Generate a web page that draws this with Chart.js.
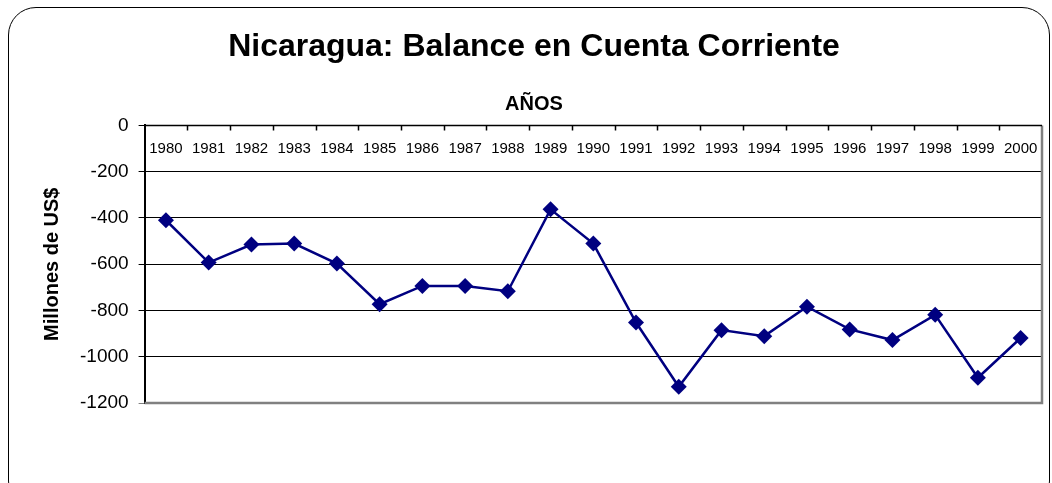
<!DOCTYPE html>
<html>
<head>
<meta charset="utf-8">
<title>Nicaragua: Balance en Cuenta Corriente</title>
<script src="https://cdn.jsdelivr.net/npm/chart.js@4"></script>
<style>
  html, body { margin: 0; padding: 0; background: #fff; overflow: hidden; }
  #wrap { position: relative; width: 1052px; height: 483px; }
  #frame {
    position: absolute; left: 8px; top: 7px; width: 1040px; height: 500px;
    border: 1px solid #000; border-radius: 28px; pointer-events: none;
  }
</style>
</head>
<body>
<div id="wrap">
  <canvas id="balanceChart" width="1052" height="483"></canvas>
  <div id="frame"></div>
</div>
<script>
// datos (millones de US$)
const years = ['1980', '1981', '1982', '1983', '1984', '1985', '1986', '1987', '1988', '1989', '1990',
               '1991', '1992', '1993', '1994', '1995', '1996', '1997', '1998', '1999', '2000'];
const balance = [-410, -593, -515, -511, -597, -773, -694, -694, -717, -363, -511,
                 -852, -1130, -885, -911, -784, -882, -928, -819, -1091, -919];
const yMin = -1200;
const yMax = 0;
const yStep = 200;

const chartTitle = 'Nicaragua: Balance en Cuenta Corriente';
const xTitle = 'AÑOS';
const yTitle = 'Millones de US$';

Chart.defaults.font.family = 'Arial, "Liberation Sans", sans-serif';
Chart.defaults.color = '#000';

// etiquetas de años dentro del área, marcas interiores y marco gris
const decorPlugin = {
    id: 'decor',
    beforeDatasetsDraw(chart) {
        const { ctx, chartArea: a, scales: { x } } = chart;
        ctx.save();

        ctx.strokeStyle = '#808080';
        ctx.lineWidth = 2.5;
        ctx.beginPath();
        ctx.moveTo(a.left, a.bottom);
        ctx.lineTo(a.right, a.bottom);
        ctx.lineTo(a.right, a.top);
        ctx.stroke();

        ctx.strokeStyle = '#000';
        ctx.lineWidth = 1.5;
        ctx.beginPath();
        ctx.moveTo(a.left, a.top);
        ctx.lineTo(a.right, a.top);
        const step = (a.right - a.left) / years.length;
        for (let k = 1; k < years.length; k++) {
            const px = Math.round(a.left + k * step) + 0.5;
            ctx.moveTo(px, a.top);
            ctx.lineTo(px, a.top + 5);
        }
        ctx.stroke();

        ctx.fillStyle = '#000';
        ctx.font = '15px Arial, "Liberation Sans", sans-serif';
        ctx.textAlign = 'center';
        ctx.textBaseline = 'middle';
        years.forEach((y, i) => {
            ctx.fillText(y, x.getPixelForValue(i), a.top + 23);
        });
        ctx.restore();
    }
};

function renderChart() {
    const ctx = document.getElementById('balanceChart').getContext('2d');

    new Chart(ctx, {
        type: 'line',
        data: {
            labels: years,
            datasets: [{
                label: 'Balance en Cuenta Corriente',
                data: balance,
                borderColor: '#000080',
                backgroundColor: '#000080',
                borderWidth: 2.5,
                pointStyle: 'rectRot',
                pointRadius: 8,
                pointHoverRadius: 8,
                pointBorderWidth: 0,
                tension: 0
            }]
        },
        options: {
            responsive: false,
            animation: false,
            layout: {
                padding: { left: 26, right: 10, top: 0, bottom: 80 }
            },
            scales: {
                x: {
                    type: 'category',
                    display: false,
                    offset: true
                },
                y: {
                    min: yMin,
                    max: yMax,
                    ticks: {
                        stepSize: yStep,
                        padding: 10,
                        font: { size: 19 },
                        color: '#000',
                        callback: v => String(v)
                    },
                    grid: {
                        color: c => c.tick && c.tick.value === yMin ? '#808080' : '#000',
                        lineWidth: 1,
                        tickLength: 6,
                        drawTicks: true
                    },
                    border: { display: true, color: '#000', width: 2 },
                    title: {
                        display: true,
                        text: yTitle,
                        font: { size: 20, weight: 'bold' },
                        color: '#000',
                        padding: { top: 14, bottom: 6 }
                    }
                }
            },
            plugins: {
                legend: { display: false },
                tooltip: { enabled: false },
                title: {
                    display: true,
                    text: chartTitle,
                    font: { size: 32, weight: 'bold' },
                    color: '#000',
                    padding: { top: 28, bottom: 26 }
                },
                subtitle: {
                    display: true,
                    text: xTitle,
                    font: { size: 20, weight: 'bold' },
                    color: '#000',
                    padding: { top: 0, bottom: 9 }
                }
            }
        },
        plugins: [decorPlugin]
    });
}

document.addEventListener('DOMContentLoaded', renderChart);
</script>
</body>
</html>
